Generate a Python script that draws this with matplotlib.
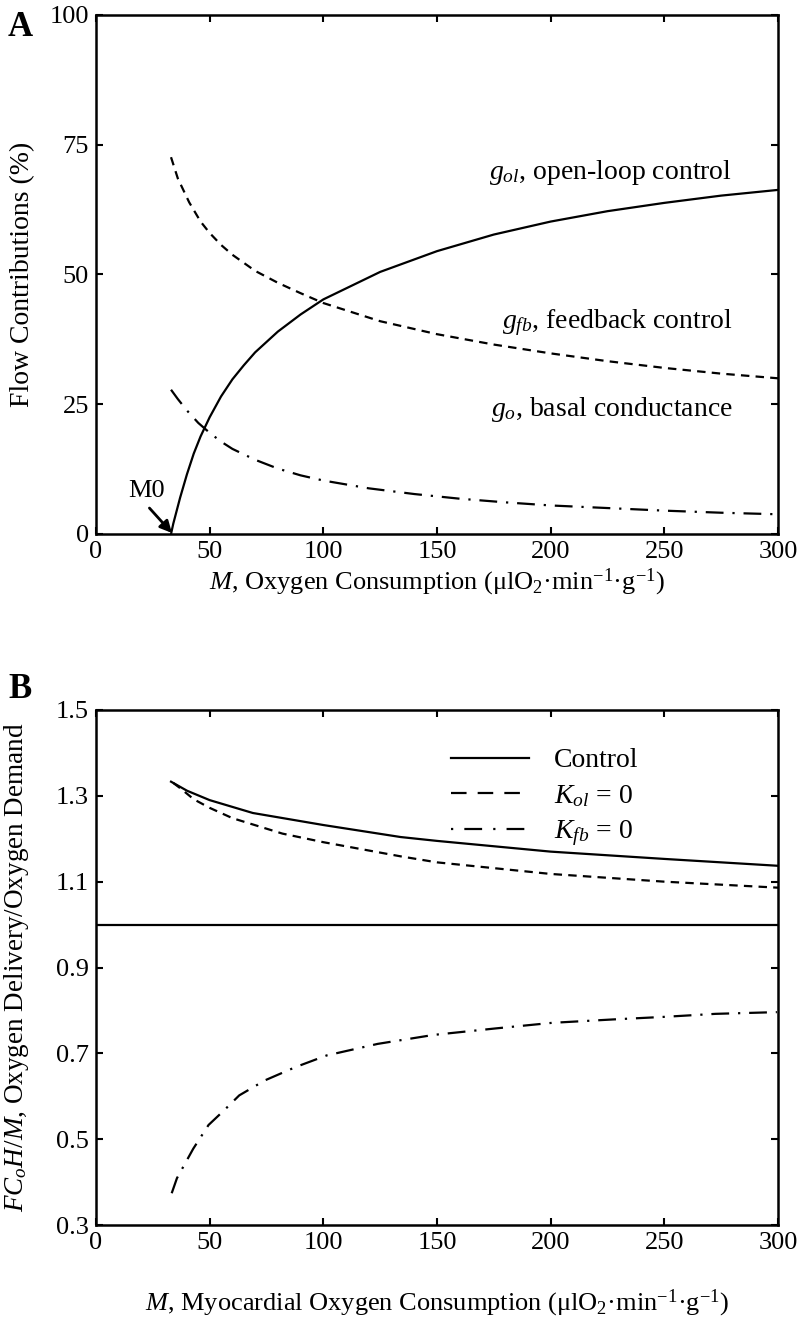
import numpy as np
import matplotlib
matplotlib.use("Agg")
import matplotlib.pyplot as plt

plt.rcParams['font.family'] = ['Liberation Serif', 'DejaVu Serif']
plt.rcParams['mathtext.fontset'] = 'custom'
plt.rcParams['mathtext.rm'] = 'Liberation Serif'
plt.rcParams['mathtext.it'] = 'Liberation Serif:italic'
plt.rcParams['mathtext.bf'] = 'Liberation Serif:bold'

# Panel A: flow contributions (%)
m_ol = [33, 34, 35.5, 37, 40, 43, 46, 50, 55, 60, 65, 70, 80, 90, 100, 125, 150, 175, 200, 225, 250, 275, 300]
g_ol = [0, 2, 4.5, 7, 11.5, 15.5, 18.8, 22.5, 26.5, 29.8, 32.5, 35, 39, 42.3, 45.2, 50.5, 54.5, 57.7, 60.2, 62.2, 63.8, 65.2, 66.3]

m_fb = [33, 36, 41, 46, 50, 55, 60, 70, 80, 90, 100, 125, 150, 175, 200, 225, 250, 275, 300]
g_fb = [72.6, 68.5, 63.9, 60.2, 58.0, 55.7, 53.8, 50.7, 48.4, 46.4, 44.5, 41.0, 38.5, 36.5, 34.8, 33.3, 32.0, 30.9, 30.0]

m_o = [33, 36, 40, 45, 50, 55, 60, 70, 80, 90, 100, 120, 140, 160, 180, 200, 225, 250, 275, 300]
g_o = [27.8, 26.0, 23.8, 21.4, 19.5, 17.8, 16.4, 14.3, 12.6, 11.3, 10.3, 8.8, 7.7, 6.8, 6.1, 5.5, 5.0, 4.5, 4.1, 3.8]

# Panel B: oxygen delivery / demand
m_ctrl = [33, 40, 50, 69, 100, 134, 150, 200, 250, 300]
r_ctrl = [1.333, 1.312, 1.290, 1.260, 1.232, 1.204, 1.195, 1.170, 1.153, 1.137]

m_kol = [34, 37, 43, 50, 60, 82, 100, 134, 150, 200, 250, 300]
r_kol = [1.330, 1.318, 1.292, 1.272, 1.248, 1.212, 1.192, 1.159, 1.145, 1.118, 1.100, 1.086]

m_kfb = [33.3, 35.6, 42.8, 49.5, 56.3, 63, 74.3, 87.8, 101.4, 123.9, 148.6, 175.7, 200.5, 227.5, 250, 272.5, 299.5]
r_kfb = [0.374, 0.409, 0.478, 0.533, 0.567, 0.602, 0.637, 0.668, 0.695, 0.722, 0.743, 0.758, 0.771, 0.779, 0.785, 0.792, 0.796]

x_ticks = [0, 50, 100, 150, 200, 250, 300]
ya_ticks = [0, 25, 50, 75, 100]
yb_ticks = [0.3, 0.5, 0.7, 0.9, 1.1, 1.3, 1.5]

FS = 19
W, H = 801, 1322
fig = plt.figure(figsize=(W / 100, H / 100), dpi=100)

DASH = (3.8, 2.8)
DASHDOT = (8, 4, 1, 4)


def style_axes(ax):
    for s in ax.spines.values():
        s.set_linewidth(1.8)
    ax.tick_params(direction='in', top=True, right=True, length=5, width=1.5,
                   labelsize=FS, pad=5)


# ---- Panel A ----
axA = fig.add_axes([96 / W, 1 - 534 / H, 682 / W, 519 / H])
axA.plot(m_ol, g_ol, color='black', lw=1.6)
axA.plot(m_fb, g_fb, color='black', lw=1.6, dashes=DASH)
axA.plot(m_o, g_o, color='black', lw=1.6, dashes=DASHDOT)
axA.set_xlim(0, 300)
axA.set_ylim(0, 100)
axA.set_xticks(x_ticks)
axA.set_yticks(ya_ticks)
style_axes(axA)
axA.set_xlabel(r"$M$, Oxygen Consumption (μlO$_2$·min$^{-1}$·g$^{-1}$)", fontsize=FS)
axA.set_ylabel("Flow Contributions (%)", fontsize=20)
axA.xaxis.set_label_coords(0.5, -0.062)
axA.yaxis.set_label_coords(-0.089, 0.5)

axA.text(280, 69.7, r"$g_{ol}$, open-loop control", fontsize=20, ha='right', va='center')
axA.text(280, 40.8, r"$g_{fb}$, feedback control", fontsize=20, ha='right', va='center')
axA.text(280, 23.9, r"$g_{o}$, basal conductance", fontsize=20, ha='right', va='center')
axA.text(14, 8.2, "M0", fontsize=FS, va='center', ha='left')
axA.annotate("", xy=(33.4, 0.2), xytext=(23.5, 5.0),
             arrowprops=dict(arrowstyle='-|>,head_length=0.7,head_width=0.35',
                             color='black', lw=2.0, shrinkA=0, shrinkB=0))

# ---- Panel B ----
axB = fig.add_axes([96 / W, 1 - 1225 / H, 682 / W, 515 / H])
axB.plot(m_ctrl, r_ctrl, color='black', lw=1.6, label='Control')
axB.plot(m_kol, r_kol, color='black', lw=1.6, dashes=DASH, label=r"$K_{ol}$ = 0")
axB.plot(m_kfb, r_kfb, color='black', lw=1.6, dashes=DASHDOT, label=r"$K_{fb}$ = 0")
axB.axhline(1.0, color='black', lw=1.6)
axB.set_xlim(0, 300)
axB.set_ylim(0.3, 1.5)
axB.set_xticks(x_ticks)
axB.set_yticks(yb_ticks)
axB.set_yticklabels([f"{v:.1f}" for v in yb_ticks])
style_axes(axB)
axB.set_xlabel(r"$M$, Myocardial Oxygen Consumption (μlO$_2$·min$^{-1}$·g$^{-1}$)", fontsize=FS)
axB.set_ylabel(r"$FC_oH/M$, Oxygen Delivery/Oxygen Demand", fontsize=19.5)
axB.xaxis.set_label_coords(0.5, -0.122)
axB.yaxis.set_label_coords(-0.095, 0.5)
leg = axB.legend(loc='upper left', bbox_to_anchor=(0.484, 0.975), frameon=False,
                 fontsize=20, handlelength=2.8, handletextpad=0.9, labelspacing=0.35)
leg_dashes = [None, (7, 5), (1, 5, 8, 5)]
for line, d in zip(leg.get_lines(), leg_dashes):
    line.set_linewidth(1.6)
    if d is not None:
        line.set_dashes(d)

fig.text(8 / W, 1 - 28 / H, "A", fontsize=25, fontweight='bold', va='center', ha='left')
fig.text(8 / W, 1 - 690 / H, "B", fontsize=25, fontweight='bold', va='center', ha='left')

fig.savefig("out.png", dpi=100)
